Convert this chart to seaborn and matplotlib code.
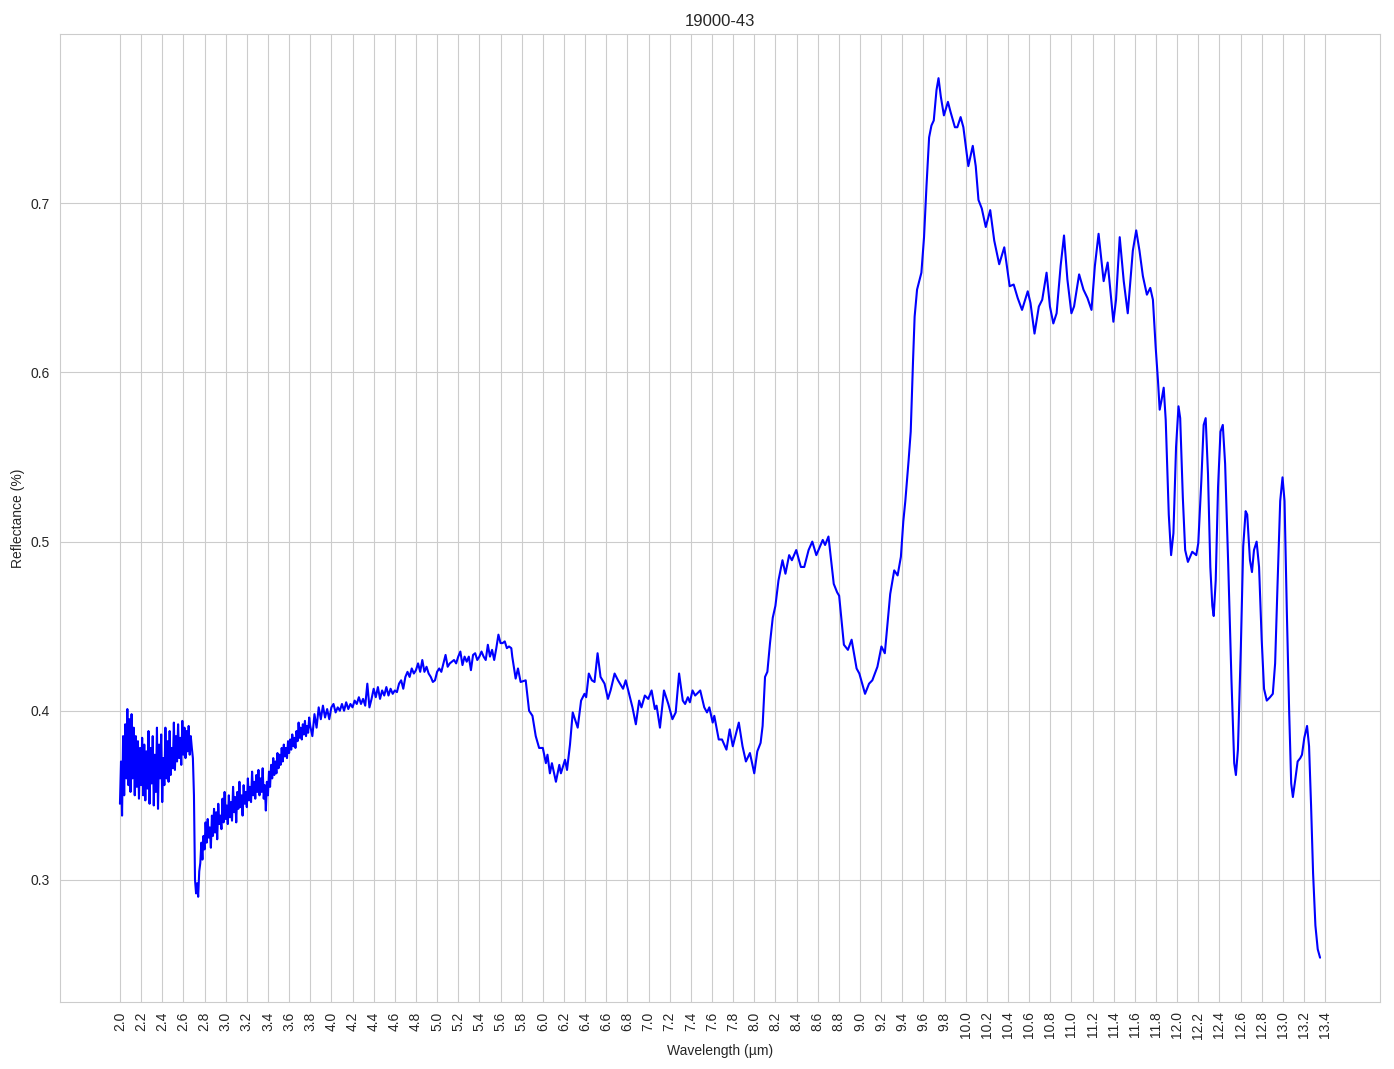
"""
Reflectance spectrum of sample 19000-43, redrawn with seaborn.
"""

import numpy as np
import pandas as pd
import matplotlib
matplotlib.use("Agg")
import matplotlib.pyplot as plt
import seaborn as sns

# ─── Data ─────────────────────────────────────────────────────────────────────

# 2.00 - 3.79 um, sampled every 0.01 um (noisy short-wave part)
START_A, STEP_A = 2.00, 0.01
refl_a = [
    0.345, 0.370, 0.338, 0.385, 0.350, 0.392, 0.360, 0.401, 0.356, 0.395,
    0.352, 0.398, 0.360, 0.390, 0.350, 0.385, 0.355, 0.382, 0.348, 0.378,
    0.356, 0.384, 0.350, 0.380, 0.347, 0.376, 0.354, 0.388, 0.345, 0.378,
    0.357, 0.385, 0.344, 0.374, 0.352, 0.390, 0.342, 0.380, 0.360, 0.386,
    0.346, 0.372, 0.356, 0.390, 0.360, 0.382, 0.358, 0.388, 0.362, 0.378,
    0.366, 0.393, 0.365, 0.385, 0.370, 0.392, 0.372, 0.384, 0.368, 0.394,
    0.374, 0.390, 0.372, 0.388, 0.376, 0.391, 0.374, 0.385, 0.378, 0.372,
    0.350, 0.300, 0.292, 0.298, 0.290, 0.305, 0.310, 0.322, 0.312, 0.326,
    0.318, 0.334, 0.322, 0.336, 0.325, 0.331, 0.319, 0.338, 0.326, 0.342,
    0.328, 0.340, 0.324, 0.345, 0.333, 0.338, 0.330, 0.348, 0.334, 0.352,
    0.336, 0.344, 0.333, 0.350, 0.337, 0.346, 0.335, 0.355, 0.340, 0.349,
    0.334, 0.352, 0.342, 0.358, 0.343, 0.350, 0.338, 0.356, 0.345, 0.352,
    0.343, 0.360, 0.347, 0.355, 0.346, 0.364, 0.350, 0.358, 0.348, 0.362,
    0.352, 0.365, 0.350, 0.360, 0.352, 0.366, 0.348, 0.356, 0.341, 0.358,
    0.350, 0.364, 0.355, 0.368, 0.360, 0.372, 0.362, 0.370, 0.363, 0.375,
    0.366, 0.374, 0.368, 0.378, 0.370, 0.380, 0.373, 0.378, 0.372, 0.382,
    0.375, 0.383, 0.377, 0.386, 0.379, 0.384, 0.378, 0.388, 0.382, 0.393,
    0.384, 0.390, 0.383, 0.392, 0.386, 0.394, 0.385, 0.391, 0.387, 0.396,
]

# 3.80 - 5.58 um, sampled every 0.02 um
START_B, STEP_B = 3.80, 0.02
refl_b = [
    0.391, 0.385, 0.398, 0.390, 0.402, 0.395, 0.403, 0.396, 0.401, 0.395,
    0.402, 0.404, 0.399, 0.402, 0.400, 0.404, 0.400, 0.405, 0.401, 0.404,
    0.402, 0.406, 0.404, 0.408, 0.404, 0.407, 0.403, 0.416, 0.402, 0.407,
    0.413, 0.408, 0.414, 0.407, 0.412, 0.409, 0.414, 0.409, 0.413, 0.410,
    0.412, 0.411, 0.416, 0.418, 0.413, 0.420, 0.423, 0.420, 0.425, 0.422,
    0.424, 0.428, 0.423, 0.430, 0.423, 0.426, 0.422, 0.420, 0.417, 0.418,
    0.423, 0.425, 0.423, 0.428, 0.433, 0.426, 0.428, 0.429, 0.430, 0.428,
    0.432, 0.435, 0.427, 0.432, 0.429, 0.432, 0.424, 0.433, 0.434, 0.430,
    0.432, 0.435, 0.432, 0.430, 0.439, 0.432, 0.436, 0.430, 0.437, 0.445,
]

# 5.6 - 9.5 um (wavelength, reflectance)
mid_band = [
    (5.600, 0.440), (5.620, 0.440), (5.640, 0.441), (5.660, 0.437), (5.680, 0.438),
    (5.702, 0.437), (5.711, 0.432), (5.743, 0.419), (5.765, 0.425), (5.790, 0.417),
    (5.838, 0.418), (5.870, 0.400), (5.902, 0.397), (5.933, 0.385), (5.965, 0.378),
    (6.000, 0.378), (6.029, 0.369), (6.044, 0.374), (6.067, 0.363), (6.086, 0.369),
    (6.124, 0.358), (6.156, 0.368), (6.171, 0.363), (6.210, 0.371), (6.229, 0.365),
    (6.257, 0.380), (6.283, 0.399), (6.330, 0.390), (6.362, 0.406), (6.394, 0.410),
    (6.410, 0.408), (6.435, 0.422), (6.464, 0.418), (6.489, 0.417), (6.518, 0.434),
    (6.546, 0.420), (6.584, 0.416), (6.616, 0.407), (6.641, 0.412), (6.679, 0.422),
    (6.711, 0.418), (6.759, 0.413), (6.784, 0.418), (6.848, 0.402), (6.880, 0.392),
    (6.911, 0.406), (6.933, 0.402), (6.965, 0.409), (6.997, 0.407), (7.029, 0.412),
    (7.060, 0.401), (7.076, 0.403), (7.108, 0.390), (7.146, 0.412), (7.187, 0.404),
    (7.226, 0.395), (7.257, 0.399), (7.289, 0.422), (7.324, 0.406), (7.346, 0.404),
    (7.372, 0.408), (7.391, 0.405), (7.416, 0.412), (7.441, 0.409), (7.489, 0.412),
    (7.527, 0.402), (7.553, 0.399), (7.575, 0.402), (7.607, 0.393), (7.622, 0.397),
    (7.664, 0.383), (7.695, 0.383), (7.737, 0.377), (7.768, 0.389), (7.797, 0.379),
    (7.854, 0.393), (7.889, 0.379), (7.921, 0.370), (7.959, 0.375), (8.000, 0.363),
    (8.029, 0.376), (8.060, 0.381), (8.079, 0.391), (8.102, 0.420), (8.124, 0.423),
    (8.149, 0.440), (8.175, 0.455), (8.200, 0.462), (8.229, 0.477), (8.267, 0.489),
    (8.295, 0.481), (8.330, 0.492), (8.356, 0.489), (8.397, 0.495), (8.441, 0.485),
    (8.473, 0.485), (8.514, 0.495), (8.549, 0.500), (8.587, 0.492), (8.648, 0.501),
    (8.670, 0.498), (8.702, 0.503), (8.752, 0.475), (8.784, 0.470), (8.803, 0.468),
    (8.848, 0.439), (8.886, 0.436), (8.921, 0.442), (8.968, 0.425), (8.994, 0.422),
    (9.048, 0.410), (9.086, 0.416), (9.117, 0.418), (9.165, 0.426), (9.203, 0.438),
    (9.235, 0.434), (9.286, 0.469), (9.324, 0.483), (9.356, 0.480), (9.387, 0.491),
    (9.410, 0.512), (9.429, 0.524), (9.460, 0.548), (9.480, 0.565),
]

# 9.5 - 11.9 um: main reststrahlen peak
peak_band = [
    (9.502, 0.607), (9.517, 0.633), (9.540, 0.649), (9.581, 0.659), (9.606, 0.680),
    (9.629, 0.710), (9.654, 0.739), (9.676, 0.746), (9.698, 0.749), (9.724, 0.767),
    (9.743, 0.774), (9.765, 0.763), (9.794, 0.752), (9.832, 0.760), (9.857, 0.754),
    (9.898, 0.745), (9.921, 0.745), (9.952, 0.751), (9.978, 0.745), (10.025, 0.722),
    (10.067, 0.734), (10.095, 0.722), (10.121, 0.702), (10.152, 0.697), (10.190, 0.686),
    (10.232, 0.696), (10.270, 0.678), (10.317, 0.664), (10.365, 0.674), (10.416, 0.651),
    (10.454, 0.652), (10.492, 0.644), (10.533, 0.637), (10.587, 0.648), (10.613, 0.641),
    (10.651, 0.623), (10.692, 0.639), (10.724, 0.643), (10.765, 0.659), (10.797, 0.639),
    (10.829, 0.629), (10.860, 0.635), (10.898, 0.663), (10.930, 0.681), (10.962, 0.655),
    (11.000, 0.635), (11.025, 0.639), (11.073, 0.658), (11.114, 0.649), (11.152, 0.644),
    (11.190, 0.637), (11.222, 0.663), (11.257, 0.682), (11.305, 0.654), (11.343, 0.665),
    (11.397, 0.630), (11.422, 0.643), (11.457, 0.680), (11.495, 0.654), (11.533, 0.635),
    (11.581, 0.672), (11.613, 0.684), (11.644, 0.672), (11.676, 0.657), (11.714, 0.646),
    (11.746, 0.650), (11.771, 0.643), (11.797, 0.615), (11.819, 0.595), (11.835, 0.578),
    (11.851, 0.583), (11.873, 0.591), (11.892, 0.572),
]

# 11.9 - 13.35 um: long-wave tail
tail_band = [
    (11.921, 0.516), (11.943, 0.492), (11.965, 0.505), (11.990, 0.556), (12.013, 0.580),
    (12.029, 0.573), (12.054, 0.526), (12.076, 0.495), (12.102, 0.488), (12.143, 0.494),
    (12.181, 0.492), (12.200, 0.499), (12.229, 0.536), (12.251, 0.569), (12.270, 0.573),
    (12.292, 0.540), (12.314, 0.485), (12.333, 0.462), (12.346, 0.456), (12.365, 0.477),
    (12.387, 0.532), (12.410, 0.565), (12.432, 0.569), (12.454, 0.546), (12.483, 0.487),
    (12.514, 0.418), (12.540, 0.369), (12.556, 0.362), (12.575, 0.377), (12.603, 0.438),
    (12.625, 0.497), (12.648, 0.518), (12.663, 0.516), (12.689, 0.489), (12.708, 0.482),
    (12.727, 0.495), (12.752, 0.500), (12.775, 0.485), (12.800, 0.442), (12.822, 0.413),
    (12.848, 0.406), (12.879, 0.408), (12.905, 0.410), (12.927, 0.428), (12.949, 0.473),
    (12.975, 0.524), (12.997, 0.538), (13.016, 0.524), (13.038, 0.458), (13.060, 0.399),
    (13.079, 0.357), (13.095, 0.349), (13.117, 0.359), (13.140, 0.370), (13.165, 0.372),
    (13.181, 0.374), (13.203, 0.384), (13.229, 0.391), (13.248, 0.379), (13.267, 0.344),
    (13.286, 0.304), (13.308, 0.273), (13.330, 0.259), (13.352, 0.254),
]

X_TICKS = np.round(np.arange(2.0, 13.41, 0.2), 1)


# ─── Build table ──────────────────────────────────────────────────────────────

def build_spectrum():
    wl_a = START_A + STEP_A * np.arange(len(refl_a))
    wl_b = START_B + STEP_B * np.arange(len(refl_b))
    rest = mid_band + peak_band + tail_band
    wl = np.concatenate([wl_a, wl_b, [p[0] for p in rest]])
    rf = np.concatenate([refl_a, refl_b, [p[1] for p in rest]])
    return pd.DataFrame({"wavelength": wl, "reflectance": rf})


# ─── Plot ─────────────────────────────────────────────────────────────────────

def main():
    df = build_spectrum()

    sns.set_style("whitegrid")
    plt.rcParams["font.family"] = ["Liberation Sans", "DejaVu Sans"]

    fig, ax = plt.subplots(figsize=(13.94, 10.69), dpi=100)
    sns.lineplot(data=df, x="wavelength", y="reflectance", ax=ax,
                 color="blue", linewidth=1.5, estimator=None, sort=False)

    ax.set_xticks(X_TICKS)
    ax.set_xticklabels([f"{t:.1f}" for t in X_TICKS], rotation=90)
    ax.set_yticks([0.3, 0.4, 0.5, 0.6, 0.7])
    ax.set_title("19000-43", fontsize=12)
    ax.set_xlabel("Wavelength (µm)")
    ax.set_ylabel("Reflectance (%)")

    fig.subplots_adjust(left=0.043, right=0.99, top=0.968, bottom=0.063)
    fig.savefig("out.png", dpi=100)
    plt.close(fig)


if __name__ == "__main__":
    main()
